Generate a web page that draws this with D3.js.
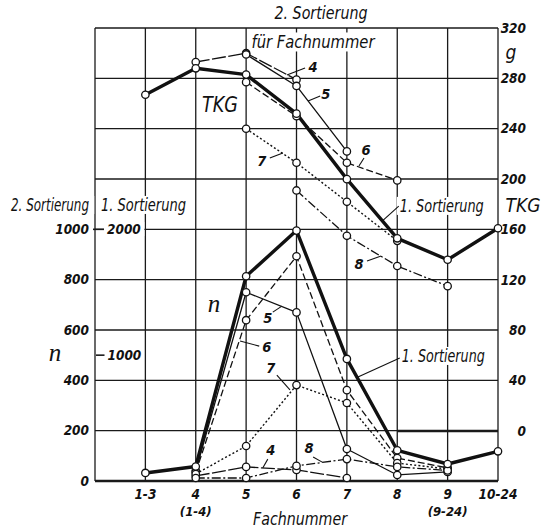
<!DOCTYPE html>
<html>
<head>
<meta charset="utf-8">
<script src="https://cdn.jsdelivr.net/npm/d3@7"></script>
<style>
body { margin: 0; background: #fff; }
svg text { font-style: italic; fill: #111; }
.w { font-family: "Liberation Sans Narrow", "DejaVu Sans Condensed", sans-serif; }
.num { font-family: "DejaVu Sans Condensed", "Liberation Sans Narrow", sans-serif; font-size: 13.5px; font-weight: bold; }
.script { font-family: "Liberation Serif", "DejaVu Serif", serif; font-size: 25px; }
</style>
</head>
<body>
<script>
// categories (Fachnummer)
var categories = ['1-3', '4', '5', '6', '7', '8', '9', '10-24'];
var subCategories = ['', '(1-4)', '', '', '', '', '(9-24)', ''];

// tick labels
var tkgTicks = [0, 40, 80, 120, 160, 200, 240, 280, 320];
var nTicks2 = [0, 200, 400, 600, 800, 1000];
var nTicks1 = [1000, 2000];

// TKG (g), 1. Sortierung and 2. Sortierung by Fachnummer
var tkgSort1 = [267, 288, 283, 252, 200, 153, 136, 161];
var tkgFach4 = [null, 293, 300, 279, null, null, null, null];
var tkgFach5 = [null, null, 299, 274, 222, null, null, null];
var tkgFach6 = [null, null, 277, 250, 213, 199, null, null];
var tkgFach7 = [null, null, 240, 213, 182, 151, null, null];
var tkgFach8 = [null, null, null, 191, 155, 131, 115, null];

// n, 1. Sortierung (left inner scale) and 2. Sortierung (left outer scale)
var nSort1 = [64, 115, 1627, 1990, 970, 244, 135, 236];
var nFach4 = [null, 20, 56, 44, 12, null, null, null];
var nFach5 = [null, 40, 750, 670, 127, 24, 36, null];
var nFach6 = [null, 35, 639, 893, 361, 91, 52, null];
var nFach7 = [null, 28, 139, 381, 310, 71, 48, null];
var nFach8 = [null, 12, 12, 60, 87, 56, 42, null];

var W = 557, H = 530;
var svg = d3.select('body').append('svg').attr('width', W).attr('height', H);

var x = d3.scaleLinear().domain([-1, categories.length - 1]).range([95, 498]);
var yTkg = d3.scaleLinear().domain([0, 320]).range([431, 28]);
var yN2 = d3.scaleLinear().domain([0, 1800]).range([481, 28]);
var yN1 = d3.scaleLinear().domain([0, 3600]).range([481, 28]);

// line styles per series
var styles = {
    sort1 : { width : 3.4, dash : null },
    f4 : { width : 1.3, dash : '14,2.5' },
    f5 : { width : 1.3, dash : null },
    f6 : { width : 1.3, dash : '7,3' },
    f7 : { width : 1.4, dash : '2,2.2' },
    f8 : { width : 1.3, dash : '9,2.5,2,2.5' }
};

var series = [
    { values : tkgFach4, y : yTkg, style : 'f4' },
    { values : tkgFach5, y : yTkg, style : 'f5' },
    { values : tkgFach6, y : yTkg, style : 'f6' },
    { values : tkgFach7, y : yTkg, style : 'f7' },
    { values : tkgFach8, y : yTkg, style : 'f8' },
    { values : nFach4, y : yN2, style : 'f4' },
    { values : nFach5, y : yN2, style : 'f5' },
    { values : nFach6, y : yN2, style : 'f6' },
    { values : nFach7, y : yN2, style : 'f7' },
    { values : nFach8, y : yN2, style : 'f8' },
    { values : tkgSort1, y : yTkg, style : 'sort1' },
    { values : nSort1, y : yN1, style : 'sort1' }
];

// grid
var grid = svg.append('g').attr('stroke', '#1a1a1a');
grid.selectAll('line.h').data(d3.range(0, 1801, 200)).enter().append('line')
    .attr('class', 'h')
    .attr('x1', x(-1)).attr('x2', x(categories.length - 1))
    .attr('y1', function(d) { return yN2(d); }).attr('y2', function(d) { return yN2(d); })
    .attr('stroke-width', function(d) { return d == 0 ? 2.6 : 1.3; });
grid.selectAll('line.v').data(d3.range(-1, categories.length)).enter().append('line')
    .attr('class', 'v')
    .attr('x1', function(d) { return x(d); }).attr('x2', function(d) { return x(d); })
    .attr('y1', yN2(1800)).attr('y2', yN2(0))
    .attr('stroke-width', 1.3);
// TKG zero line, bold on the right part
grid.append('line')
    .attr('x1', x(5)).attr('x2', x(7)).attr('y1', yTkg(0)).attr('y2', yTkg(0))
    .attr('stroke-width', 2.6);
// small ticks of the 1. Sortierung scale
grid.selectAll('line.t1').data(nTicks1).enter().append('line')
    .attr('x1', function(d) { return d == 2000 ? 93 : 96; }).attr('x2', 104.5)
    .attr('y1', function(d) { return yN1(d); }).attr('y2', function(d) { return yN1(d); })
    .attr('stroke-width', 1.6);

var labels = svg.append('g');

// len: squeeze text to this width (the original lettering is narrow)
function label(px, py, txt, cls, size, anchor, bg, len) {
    var t = labels.append('text')
        .attr('x', px).attr('y', py).attr('dy', '0.35em')
        .attr('text-anchor', anchor || 'middle')
        .attr('class', cls)
        .text(txt);
    if (size) t.style('font-size', size + 'px');
    if (len) t.attr('textLength', len).attr('lengthAdjust', 'spacingAndGlyphs');
    if (bg) {
        var b = t.node().getBBox();
        labels.insert('rect', function() { return t.node(); })
            .attr('x', b.x - bg).attr('y', b.y + 1)
            .attr('width', b.width + 2 * bg).attr('height', b.height - 2)
            .attr('fill', '#fff');
    }
    return t;
}

// axis labels
nTicks2.forEach(function(d) { label(89, yN2(d), d, 'num', null, 'end'); });
label(107, yN1(2000), '2000', 'num', null, 'start', 3);
label(107.5, yN1(1000), '1000', 'num', null, 'start', 2);
tkgTicks.forEach(function(d) { label(526, yTkg(d), d, 'num', null, 'end'); });
categories.forEach(function(d, i) { label(x(i), 494, d, 'num'); });
subCategories.forEach(function(d, i) { if (d) label(x(i), 511, d, 'num', 13); });

label(89, 205, '2. Sortierung', 'w', 17, 'end', 5, 78);
label(101, 205, '1. Sortierung', 'w', 17, 'start', 3, 85);
label(55, 352, 'n', 'script');
label(321, 13, '2. Sortierung', 'w', 18.5, 'middle', 0, 93);
label(313, 42, 'für Fachnummer', 'w', 18.5, 'middle', 3, 123);
label(511, 52, 'g', 'w', 19);
label(523, 205, 'TKG', 'w', 19.5, 'middle', 0, 35);
label(300, 519, 'Fachnummer', 'w', 18, 'middle', 0, 94);

// notes inside the plot, in data units: [category index, value]
var tkgNotes = [
    { t : '4', at : [3.33, 289], from : [2.81, 282.7], to : [3.17, 288.2] },
    { t : '5', at : [3.58, 267.6], from : [3.23, 262], to : [3.47, 266] },
    { t : '6', at : [4.38, 223], from : [4.24, 210.4], to : [4.34, 216.8] },
    { t : '7', at : [2.31, 214.4], from : [2.73, 220.7], to : [2.47, 216.8] },
    { t : '8', at : [4.24, 132.6], from : [4.68, 139], to : [4.40, 135] }
];
var nNotes = [
    { t : '5', at : [2.43, 648], from : [2.71, 695], to : [2.53, 671] },
    { t : '6', at : [2.41, 532], from : [1.88, 556], to : [2.26, 536] },
    { t : '7', at : [2.49, 449], from : [2.87, 362], to : [2.61, 421] },
    { t : '4', at : [2.49, 123], from : [2.33, 52], to : [2.43, 87] },
    { t : '8', at : [3.25, 131], from : [3.51, 75], to : [3.33, 95] }
];

var leaders = svg.append('g').attr('stroke', '#111').attr('stroke-width', 1.1).attr('fill', 'none');

tkgNotes.forEach(function(n) {
    label(x(n.at[0]), yTkg(n.at[1]), n.t, 'num', 14.5);
    leaders.append('line').attr('x1', x(n.from[0])).attr('y1', yTkg(n.from[1])).attr('x2', x(n.to[0])).attr('y2', yTkg(n.to[1]));
});
nNotes.forEach(function(n) {
    label(x(n.at[0]), yN2(n.at[1]), n.t, 'num', 14.5);
    leaders.append('line').attr('x1', x(n.from[0])).attr('y1', yN2(n.from[1])).attr('x2', x(n.to[0])).attr('y2', yN2(n.to[1]));
});

label(x(1.48), yTkg(259), 'TKG', 'w', 21, 'middle', 0, 36);
label(x(1.36), yN2(707), 'n', 'script');

label(x(5.05), yTkg(178.7), '1. Sortierung', 'w', 17, 'start', 3, 84);
leaders.append('line').attr('x1', x(4.70)).attr('y1', yTkg(166.7)).attr('x2', x(5.03)).attr('y2', yTkg(178.6));
label(x(5.09), yN2(496.7), '1. Sortierung', 'w', 17, 'start', 3, 83);
leaders.append('line').attr('x1', x(4.22)).attr('y1', yN2(413)).attr('x2', x(5.05)).attr('y2', yN2(488.7));

// series lines
var plot = svg.append('g');
series.forEach(function(s) {
    var st = styles[s.style];
    var line = d3.line()
        .defined(function(d) { return d != null; })
        .x(function(d, i) { return x(i); })
        .y(function(d) { return s.y(d); });
    plot.append('path')
        .datum(s.values)
        .attr('d', line)
        .attr('fill', 'none')
        .attr('stroke', '#111')
        .attr('stroke-width', st.width)
        .attr('stroke-dasharray', st.dash)
        .attr('stroke-linejoin', 'round');
});

// point markers
series.forEach(function(s) {
    var pts = s.values.map(function(v, i) { return { i : i, v : v }; }).filter(function(p) { return p.v != null; });
    plot.append('g').selectAll('circle').data(pts).enter().append('circle')
        .attr('cx', function(p) { return x(p.i); })
        .attr('cy', function(p) { return s.y(p.v); })
        .attr('r', 3.7)
        .attr('fill', '#fff')
        .attr('stroke', '#111')
        .attr('stroke-width', 1.3);
});
</script>
</body>
</html>
